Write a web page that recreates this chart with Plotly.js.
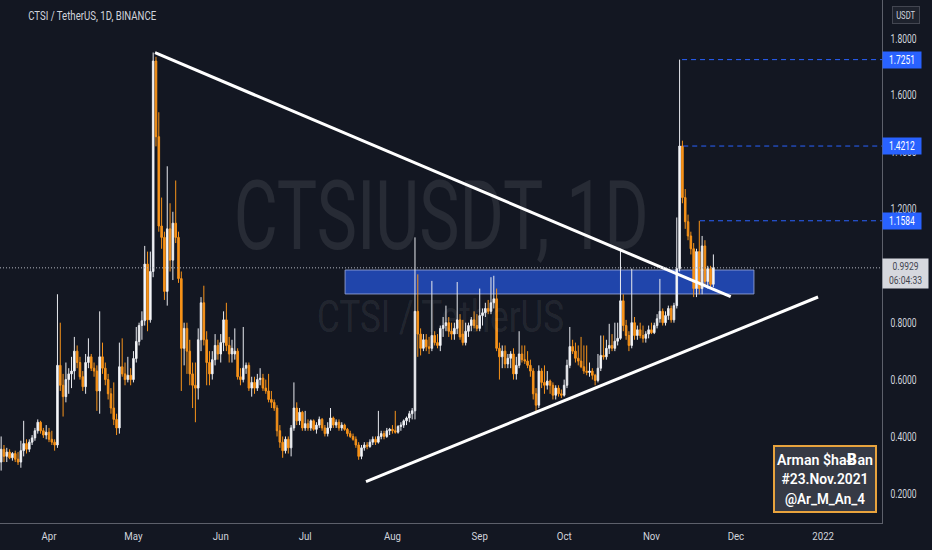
<!DOCTYPE html>
<html>
<head>
<meta charset="utf-8">
<script src="https://cdn.plot.ly/plotly-3.0.1.min.js"></script>
<style>
html,body{margin:0;padding:0;background:#131722;overflow:hidden}
#chart{width:932px;height:550px}
</style>
</head>
<body>
<div id="chart"></div>
<script>
// ---------- DATA ----------
const firstCandleDate = '2021-03-15';
const openP = [
0.31,0.355,0.33,0.345,0.325,0.34,0.32,0.31,0.35,0.375,
0.355,0.38,0.395,0.42,0.45,0.42,0.405,0.415,0.39,0.38,
0.37,0.65,0.58,0.54,0.60,0.62,0.63,0.70,0.66,0.61,
0.575,0.66,0.68,0.64,0.63,0.56,0.68,0.64,0.60,0.55,
0.50,0.46,0.43,0.645,0.62,0.60,0.615,0.60,0.674,0.734,
0.79,0.807,1.006,0.81,0.98,1.72,1.454,1.14,1.10,0.91,
1.13,1.02,1.15,1.10,0.955,0.71,0.78,0.70,0.62,0.58,
0.57,0.74,0.87,0.74,0.66,0.62,0.67,0.72,0.69,0.73,
0.81,0.72,0.69,0.69,0.70,0.61,0.60,0.64,0.65,0.57,
0.59,0.57,0.60,0.605,0.57,0.56,0.53,0.52,0.50,0.42,
0.38,0.35,0.39,0.36,0.43,0.50,0.455,0.485,0.43,0.445,
0.43,0.455,0.425,0.44,0.46,0.43,0.41,0.43,0.465,0.44,
0.45,0.43,0.44,0.425,0.41,0.40,0.39,0.37,0.33,0.36,
0.37,0.365,0.38,0.39,0.38,0.40,0.41,0.40,0.42,0.425,
0.42,0.415,0.435,0.44,0.455,0.465,0.48,0.49,0.84,0.76,
0.71,0.74,0.715,0.71,0.755,0.73,0.72,0.78,0.79,0.80,
0.77,0.76,0.78,0.81,0.76,0.73,0.77,0.79,0.81,0.79,
0.78,0.825,0.835,0.85,0.84,0.87,0.884,0.71,0.68,0.70,
0.655,0.675,0.69,0.62,0.65,0.69,0.67,0.665,0.65,0.63,
0.55,0.51,0.63,0.59,0.58,0.595,0.58,0.545,0.57,0.55,
0.545,0.58,0.65,0.716,0.70,0.675,0.665,0.645,0.63,0.625,
0.63,0.615,0.597,0.64,0.685,0.68,0.71,0.72,0.71,0.735,
0.745,0.877,0.79,0.755,0.72,0.80,0.755,0.775,0.755,0.745,
0.76,0.775,0.765,0.79,0.814,0.84,0.80,0.825,0.85,0.81,
0.86,0.99,1.4212,1.24,1.155,1.105,1.06,0.92,1.05,0.92,
1.07,0.945,0.99,0.935];
const highP = [
0.40,0.37,0.36,0.355,0.345,0.35,0.345,0.385,0.455,0.39,
0.39,0.405,0.43,0.46,0.455,0.43,0.44,0.43,0.42,0.39,
0.90,0.80,0.62,0.66,0.64,0.68,0.75,0.72,0.68,0.63,
0.69,0.745,0.69,0.66,0.65,0.84,0.73,0.66,0.62,0.57,
0.59,0.48,0.73,0.745,0.66,0.68,0.64,0.70,0.785,0.80,
0.84,1.07,1.05,1.05,1.75,1.735,1.54,1.24,1.12,1.35,
1.22,1.19,1.30,1.12,0.98,0.80,0.80,0.74,0.66,0.66,
0.78,0.89,0.93,0.77,0.70,0.70,0.76,0.74,0.76,0.84,
0.87,0.75,0.74,0.78,0.71,0.64,0.785,0.66,0.66,0.61,
0.61,0.62,0.64,0.62,0.60,0.62,0.56,0.53,0.51,0.44,
0.40,0.40,0.40,0.44,0.59,0.52,0.50,0.49,0.49,0.46,
0.46,0.46,0.45,0.47,0.465,0.44,0.45,0.50,0.47,0.46,
0.46,0.45,0.445,0.43,0.42,0.41,0.40,0.38,0.37,0.38,
0.38,0.39,0.40,0.40,0.49,0.42,0.42,0.43,0.43,0.44,
0.49,0.44,0.45,0.46,0.47,0.49,0.50,1.10,0.97,0.78,
0.76,0.76,0.75,0.947,0.77,0.76,0.79,0.82,0.86,0.82,
0.80,0.80,0.943,0.83,0.81,0.80,0.80,0.82,0.84,0.83,
0.92,0.85,0.87,0.88,0.96,0.965,0.92,0.73,0.72,0.72,
0.69,0.70,0.71,0.68,0.77,0.72,0.72,0.70,0.67,0.64,
0.57,0.65,0.64,0.65,0.63,0.60,0.59,0.58,0.58,0.565,
0.60,0.67,0.785,0.74,0.73,0.72,0.75,0.72,0.72,0.66,
0.64,0.62,0.69,0.755,0.755,0.74,0.796,0.76,0.80,0.80,
1.06,0.90,0.81,0.77,0.99,0.82,0.79,0.80,0.79,0.77,
0.79,0.80,0.80,0.83,0.954,0.85,0.84,0.86,0.86,0.87,
1.17,1.7251,1.44,1.27,1.18,1.12,1.08,1.06,1.1584,1.105,
1.09,1.00,1.00,1.04];
const lowP = [
0.28,0.31,0.31,0.32,0.315,0.31,0.30,0.29,0.33,0.34,
0.345,0.37,0.385,0.41,0.41,0.395,0.39,0.38,0.37,0.35,
0.36,0.56,0.47,0.52,0.55,0.57,0.60,0.64,0.60,0.56,
0.55,0.64,0.63,0.61,0.49,0.48,0.62,0.58,0.53,0.48,
0.44,0.405,0.41,0.61,0.58,0.59,0.58,0.59,0.66,0.72,
0.74,0.79,0.77,0.80,0.96,1.42,1.12,1.06,0.88,0.86,
0.98,0.95,1.08,0.94,0.56,0.65,0.62,0.58,0.50,0.45,
0.53,0.70,0.72,0.58,0.58,0.60,0.65,0.67,0.66,0.70,
0.70,0.66,0.66,0.67,0.60,0.58,0.59,0.62,0.56,0.54,
0.55,0.56,0.58,0.56,0.55,0.52,0.50,0.49,0.40,0.36,
0.325,0.34,0.34,0.33,0.42,0.44,0.44,0.42,0.42,0.42,
0.42,0.42,0.41,0.43,0.42,0.40,0.40,0.42,0.43,0.43,
0.42,0.42,0.42,0.40,0.395,0.385,0.36,0.318,0.32,0.35,
0.355,0.36,0.37,0.37,0.375,0.39,0.39,0.395,0.405,0.41,
0.41,0.41,0.42,0.43,0.44,0.45,0.46,0.46,0.68,0.685,
0.70,0.70,0.69,0.70,0.72,0.71,0.70,0.75,0.77,0.75,
0.74,0.74,0.76,0.74,0.72,0.72,0.75,0.77,0.78,0.77,
0.77,0.79,0.82,0.83,0.83,0.85,0.70,0.60,0.64,0.64,
0.64,0.64,0.60,0.60,0.64,0.66,0.655,0.64,0.61,0.53,
0.49,0.50,0.57,0.55,0.565,0.55,0.53,0.53,0.54,0.535,
0.54,0.57,0.64,0.69,0.66,0.65,0.64,0.62,0.615,0.61,
0.60,0.58,0.59,0.63,0.67,0.67,0.69,0.70,0.70,0.72,
0.74,0.77,0.74,0.70,0.71,0.74,0.74,0.745,0.73,0.73,
0.745,0.76,0.76,0.78,0.80,0.79,0.79,0.81,0.80,0.80,
0.85,0.98,1.22,1.13,1.09,1.04,0.89,0.89,0.90,0.90,
0.93,0.92,0.92,0.925];
const closeP = [
0.355,0.33,0.345,0.325,0.34,0.32,0.31,0.35,0.375,0.355,
0.38,0.395,0.42,0.45,0.42,0.405,0.415,0.39,0.38,0.37,
0.65,0.58,0.54,0.60,0.62,0.63,0.70,0.66,0.61,0.575,
0.66,0.68,0.64,0.63,0.56,0.68,0.64,0.60,0.55,0.50,
0.46,0.43,0.645,0.62,0.60,0.615,0.60,0.674,0.734,0.79,
0.807,1.006,0.81,0.98,1.72,1.454,1.14,1.10,0.91,1.13,
1.02,1.15,1.10,0.955,0.71,0.78,0.70,0.62,0.58,0.57,
0.74,0.87,0.74,0.66,0.62,0.67,0.72,0.69,0.73,0.81,
0.72,0.69,0.71,0.70,0.61,0.60,0.64,0.65,0.57,0.59,
0.57,0.60,0.605,0.57,0.56,0.53,0.52,0.50,0.42,0.38,
0.35,0.39,0.36,0.43,0.50,0.455,0.485,0.43,0.445,0.43,
0.455,0.425,0.44,0.46,0.43,0.41,0.43,0.465,0.44,0.45,
0.43,0.44,0.425,0.41,0.40,0.39,0.37,0.33,0.36,0.37,
0.365,0.38,0.39,0.38,0.40,0.41,0.40,0.42,0.425,0.42,
0.415,0.435,0.44,0.455,0.465,0.48,0.49,0.84,0.76,0.71,
0.74,0.715,0.71,0.755,0.73,0.72,0.78,0.79,0.80,0.77,
0.76,0.78,0.81,0.75,0.73,0.77,0.79,0.81,0.79,0.78,
0.825,0.835,0.85,0.84,0.87,0.884,0.71,0.68,0.70,0.655,
0.675,0.69,0.62,0.65,0.69,0.67,0.665,0.65,0.63,0.55,
0.51,0.63,0.59,0.58,0.595,0.58,0.545,0.57,0.55,0.545,
0.58,0.65,0.716,0.70,0.675,0.665,0.645,0.63,0.625,0.63,
0.615,0.597,0.64,0.685,0.68,0.71,0.72,0.71,0.735,0.745,
0.877,0.79,0.755,0.72,0.80,0.755,0.775,0.755,0.745,0.76,
0.775,0.765,0.79,0.814,0.84,0.80,0.825,0.85,0.81,0.86,
0.99,1.4212,1.24,1.155,1.105,1.06,0.92,1.05,0.92,1.07,
0.945,0.99,0.935,0.9929];

const xTickDates  = ['2021-04-01','2021-05-01','2021-06-01','2021-07-01','2021-08-01','2021-09-01','2021-10-01','2021-11-01','2021-12-01','2022-01-01'];
const xTickLabels = ['Apr','May','Jun','Jul','Aug','Sep','Oct','Nov','Dec','2022'];
const yTickVals   = [0.2,0.4,0.6,0.8,1.2,1.4,1.6,1.8];

const levelPrices = [1.7251, 1.4212, 1.1584];
const levelStarts = ['2021-11-11 21:00','2021-11-12 07:00','2021-11-18 06:00'];
const lastPrice = 0.9929;
const countdownText = '06:04:33';

const zoneDates  = ['2021-07-15 04:00','2021-12-07 10:00'];
const zonePrices = [0.901, 0.9853];
const trendDownDates  = ['2021-05-08 15:50','2021-11-29 04:00'];
const trendDownPrices = [1.7494, 0.8914];
const trendUpDates    = ['2021-07-22 14:30','2021-12-30 04:20'];
const trendUpPrices   = [0.2413, 0.8904];

const titleText = 'CTSI / TetherUS, 1D, BINANCE';
const watermarkMain = 'CTSIUSDT, 1D';
const watermarkSub = 'CTSI / TetherUS';
const currencyText = 'USDT';
const signatureLines = ['Arman $haɃan','#23.Nov.2021','@Ar_M_An_4'];

// ---------- BUILD ----------
const dates = [];
{
  const p = firstCandleDate.split('-').map(Number);
  const t0 = Date.UTC(p[0], p[1]-1, p[2]);
  for (let i = 0; i < closeP.length; i++) dates.push(new Date(t0 + i*86400000).toISOString().slice(0,10));
}

const F = 'Roboto, "Open Sans", "DejaVu Sans", sans-serif';
const PLOT_W = 882, PLOT_H = 523;

const trace = {
  type: 'candlestick',
  x: dates, open: openP, high: highP, low: lowP, close: closeP,
  increasing: {line: {color: '#e8eaef', width: 1}, fillcolor: '#ffffff'},
  decreasing: {line: {color: '#f7931a', width: 1}, fillcolor: '#f7931a'},
  whiskerwidth: 0,
  hoverinfo: 'skip'
};

const shapes = [
  {type:'rect', xref:'x', yref:'y', x0:zoneDates[0], x1:zoneDates[1], y0:zonePrices[0], y1:zonePrices[1],
   fillcolor:'rgba(41,98,255,0.62)', line:{color:'rgba(150,165,215,0.85)', width:1}, layer:'below'},
  {type:'line', xref:'x', yref:'y', x0:trendDownDates[0], x1:trendDownDates[1], y0:trendDownPrices[0], y1:trendDownPrices[1],
   line:{color:'#ffffff', width:3}},
  {type:'line', xref:'x', yref:'y', x0:trendUpDates[0], x1:trendUpDates[1], y0:trendUpPrices[0], y1:trendUpPrices[1],
   line:{color:'#ffffff', width:3}},
  {type:'line', xref:'paper', yref:'y', x0:0, x1:1, y0:lastPrice, y1:lastPrice,
   line:{color:'#b2b5be', width:1, dash:'1px,2px'}}
];
levelPrices.forEach((p, k) => shapes.push({
  type:'line', xref:'x', yref:'y', x0:levelStarts[k], x1:'2022-03-01', y0:p, y1:p,
  line:{color:'#2962ff', width:1, dash:'5px,4px'}
}));

const annotations = [
  {text:titleText, xref:'paper', yref:'paper', x:7/PLOT_W, y:(PLOT_H-16)/PLOT_H, xanchor:'left', yanchor:'middle',
   showarrow:false, font:{family:F, size:12.5, color:'#d1d4dc'}},
  {text:watermarkMain, xref:'paper', yref:'paper', x:440.5/PLOT_W, y:(PLOT_H-216)/PLOT_H, xanchor:'center', yanchor:'middle',
   showarrow:false, font:{family:F, size:96, color:'rgba(255,255,255,0.085)'}},
  {text:watermarkSub, xref:'paper', yref:'paper', x:440/PLOT_W, y:(PLOT_H-316)/PLOT_H, xanchor:'center', yanchor:'middle',
   showarrow:false, font:{family:F, size:45, color:'rgba(255,255,255,0.085)'}},
  {text:currencyText, xref:'paper', yref:'paper', x:906/PLOT_W, y:(PLOT_H-15)/PLOT_H, xanchor:'center', yanchor:'middle',
   showarrow:false, width:24, height:14, borderpad:1, borderwidth:1, bordercolor:'#434651', bgcolor:'#1e222d',
   font:{family:F, size:10.5, color:'#d1d4dc'}}
];
levelPrices.forEach(p => annotations.push({
  text:p.toFixed(4), xref:'paper', yref:'y', x:1, y:p, xanchor:'left', yanchor:'middle', showarrow:false,
  width:38, height:16, borderpad:0, bgcolor:'#2962ff', font:{family:F, size:12, color:'#ffffff'}
}));
annotations.push({
  text:lastPrice.toFixed(4)+'<br>'+countdownText, xref:'paper', yref:'y', x:1, y:lastPrice, xanchor:'left', yanchor:'middle',
  yshift:-6, showarrow:false, width:45, height:29, borderpad:0, bgcolor:'#d6d8de', font:{family:F, size:11, color:'#434651'}
});
annotations.push({
  text:signatureLines.join('<br>'), xref:'paper', yref:'paper', x:825/PLOT_W, y:(PLOT_H-479)/PLOT_H,
  xanchor:'center', yanchor:'middle', showarrow:false, width:100, height:64, borderpad:0, borderwidth:2,
  bordercolor:'#e8a33d', bgcolor:'#363a45', font:{family:F, size:15, color:'#ffffff', weight:600}
});

const layout = {
  width:932, height:550,
  paper_bgcolor:'#131722', plot_bgcolor:'#131722',
  margin:{l:0, r:50, t:0, b:27, pad:0},
  showlegend:false,
  boxgap:0.2,
  xaxis:{type:'date', range:['2021-03-14 14:10','2022-01-21 21:36'], rangeslider:{visible:false},
    showgrid:false, zeroline:false, tickvals:xTickDates, ticktext:xTickLabels, ticks:'',
    tickfont:{family:F, size:11.5, color:'#d1d4dc'}, showline:true, linecolor:'#5d606b', linewidth:1,
    ticklabelstandoff:2, fixedrange:true},
  yaxis:{side:'right', range:[0.0957, 1.9347], showgrid:false, zeroline:false, tickvals:yTickVals,
    tickformat:'.4f', ticks:'', tickfont:{family:F, size:12, color:'#d1d4dc'}, showline:true,
    linecolor:'#5d606b', linewidth:1, ticklabelstandoff:5, fixedrange:true},
  shapes:shapes,
  annotations:annotations
};

// text width fitting (the reference uses a narrow UI font)
const xTickSqueeze = 0.84, yTickSqueeze = 0.71;
const annFit = {0:[128], 1:[415], 2:[247], 3:[19], 4:[26], 5:[26], 6:[26], 7:[26,33], 8:[96,87,80]};

function fit(el, target){
  if (!el || !(target > 0)) return;
  el.setAttribute('textLength', target.toFixed(1));
  el.setAttribute('lengthAdjust', 'spacingAndGlyphs');
}
function squeeze(gd){
  gd.querySelectorAll('.xtick text').forEach(t => fit(t, t.getComputedTextLength()*xTickSqueeze));
  gd.querySelectorAll('.ytick text').forEach(t => fit(t, t.getComputedTextLength()*yTickSqueeze));
  const anns = gd.querySelectorAll('g.annotation');
  anns.forEach(g => {
    const idx = +g.getAttribute('data-index');
    const spec = annFit[idx];
    if (!spec) return;
    const txt = g.querySelector('.annotation-text');
    if (!txt) return;
    const lines = txt.querySelectorAll('tspan.line');
    if (lines.length) lines.forEach((l, j) => fit(l, spec[j] || spec[0]));
    else fit(txt, spec[0]);
  });
}

const gd = document.getElementById('chart');
Plotly.newPlot(gd, [trace], layout, {staticPlot:true, displayModeBar:false, responsive:false})
  .then(() => squeeze(gd));
</script>
</body>
</html>
